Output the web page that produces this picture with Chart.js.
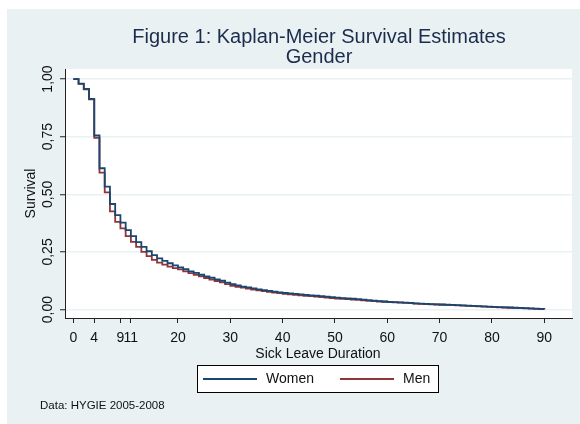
<!DOCTYPE html>
<html>
<head>
<meta charset="utf-8">
<script src="https://cdn.jsdelivr.net/npm/chart.js@4"></script>
<style>
html,body{margin:0;padding:0;background:#fff;}
canvas{display:block;}
</style>
</head>
<body>
<canvas id="c" width="580" height="424"></canvas>
<script>
// ---- data ----
const days = [0,1,2,3,4,5,6,7,8,9,10,11,12,13,14,15,16,17,18,19,20,21,22,23,24,25,26,27,28,29,30,
  31,32,33,34,35,36,37,38,39,40,41,42,43,44,45,46,47,48,49,50,51,52,53,54,55,56,57,58,59,60,
  61,62,63,64,65,66,67,68,69,70,71,72,73,74,75,76,77,78,79,80,81,82,83,84,85,86,87,88,89,90];
const women = [1.000,0.980,0.957,0.914,0.755,0.613,0.533,0.458,0.410,0.377,0.345,0.319,0.293,0.272,0.253,0.236,0.222,0.211,0.201,0.192,0.183,
  0.175,0.166,0.159,0.151,0.144,0.138,0.131,0.125,0.117,0.110,
  0.105,0.100,0.096,0.092,0.088,0.084,0.081,0.078,0.075,0.072,
  0.070,0.068,0.066,0.064,0.062,0.060,0.058,0.056,0.054,0.052,
  0.050,0.048,0.047,0.045,0.043,0.041,0.039,0.037,0.035,0.033,
  0.032,0.031,0.030,0.029,0.027,0.026,0.025,0.024,0.023,0.022,
  0.021,0.020,0.019,0.018,0.017,0.016,0.015,0.014,0.013,0.012,
  0.011,0.010,0.009,0.008,0.007,0.006,0.005,0.004,0.003,0.001];
const men = [1.000,0.979,0.955,0.912,0.745,0.594,0.508,0.426,0.380,0.352,0.319,0.294,0.272,0.250,0.232,0.216,0.204,0.195,0.186,0.180,0.174,
  0.166,0.158,0.151,0.144,0.137,0.130,0.124,0.118,0.110,0.103,
  0.099,0.095,0.091,0.087,0.083,0.080,0.077,0.074,0.071,0.068,
  0.066,0.064,0.062,0.060,0.058,0.056,0.054,0.052,0.050,0.048,
  0.047,0.045,0.043,0.042,0.040,0.038,0.037,0.035,0.034,0.032,
  0.031,0.030,0.029,0.028,0.026,0.025,0.024,0.023,0.022,0.021,
  0.020,0.019,0.018,0.017,0.016,0.015,0.014,0.013,0.012,0.011,
  0.010,0.009,0.008,0.007,0.006,0.005,0.004,0.003,0.002,0.001];
const xTicks = [0,4,9,11,20,30,40,50,60,70,80,90];
const yTicks = [0,0.25,0.5,0.75,1];
const yTickLabels = ["0,00","0,25","0,50","0,75","1,00"];
const seriesNames = ["Women","Men"];
const titleLines = ["Figure 1: Kaplan-Meier Survival Estimates","Gender"];
const xTitle = "Sick Leave Duration";
const yTitle = "Survival";
const note = "Data: HYGIE 2005-2008";

const FONT = '"Liberation Sans", Arial, sans-serif';
const BG = '#e9f1f3';
const colors = ['#1a476f','#90353b'];

const decor = {
  id:'decor',
  beforeDraw(chart){
    const ctx = chart.ctx, a = chart.chartArea;
    ctx.save();
    ctx.fillStyle='#fff'; ctx.fillRect(0,0,chart.width,chart.height);
    ctx.fillStyle=BG; ctx.fillRect(7,9,chart.width-7,chart.height-9);
    ctx.fillStyle='#fff'; ctx.fillRect(a.left,a.top,a.right-a.left,a.bottom-a.top);
    ctx.restore();
  },
  afterDraw(chart){
    const ctx = chart.ctx, a = chart.chartArea;
    const xs = chart.scales.x, ys = chart.scales.y;
    ctx.save();
    // title
    ctx.fillStyle='#1c2c4c';
    ctx.font='20px '+FONT;
    ctx.textAlign='center'; ctx.textBaseline='middle';
    ctx.fillText(titleLines[0],319,37);
    ctx.fillText(titleLines[1],319,57);
    // x tick labels
    ctx.fillStyle='#111';
    ctx.font='14px '+FONT;
    xTicks.forEach(v=>{ ctx.fillText(String(v), xs.getPixelForValue(v), 338); });
    // x title
    ctx.fillText(xTitle,318,354);
    // y tick labels rotated
    yTicks.forEach((v,i)=>{
      ctx.save();
      ctx.translate(48, ys.getPixelForValue(v));
      ctx.rotate(-Math.PI/2);
      ctx.fillText(yTickLabels[i],0,0);
      ctx.restore();
    });
    // y title
    ctx.save();
    ctx.translate(31,(a.top+a.bottom)/2);
    ctx.rotate(-Math.PI/2);
    ctx.fillText(yTitle,0,0);
    ctx.restore();
    // legend
    const lx=197, ly=365, lw=241, lh=27;
    ctx.fillStyle='#fff'; ctx.fillRect(lx,ly,lw,lh);
    ctx.strokeStyle='#000'; ctx.lineWidth=1; ctx.strokeRect(lx+0.5,ly+0.5,lw,lh);
    const cy = ly+lh/2+0.5;
    const items = [{x0:203,x1:257,tx:266},{x0:340,x1:394,tx:403}];
    chart.data.datasets.forEach((ds,i)=>{
      ctx.strokeStyle=ds.borderColor; ctx.lineWidth=1.8;
      ctx.beginPath(); ctx.moveTo(items[i].x0,cy); ctx.lineTo(items[i].x1,cy); ctx.stroke();
      ctx.fillStyle='#111'; ctx.textAlign='left'; ctx.font='14px '+FONT;
      ctx.fillText(ds.label, items[i].tx, cy);
    });
    // note
    ctx.font='11.5px '+FONT; ctx.fillStyle='#111'; ctx.textAlign='left';
    ctx.fillText(note,40,406);
    ctx.restore();
  }
};

new Chart(document.getElementById('c'),{
  type:'line',
  data:{
    datasets:[
      {label:seriesNames[0], data:days.map((d,i)=>({x:d,y:women[i]})), borderColor:colors[0], borderWidth:1.8, pointRadius:0, stepped:'before', fill:false},
      {label:seriesNames[1], data:days.map((d,i)=>({x:d,y:men[i]})), borderColor:colors[1], borderWidth:1.8, pointRadius:0, stepped:'before', fill:false}
    ]
  },
  options:{
    responsive:false, animation:false, devicePixelRatio:1,
    layout:{padding:{top:69,left:0,right:8,bottom:56}},
    plugins:{legend:{display:false}, tooltip:{enabled:false}, title:{display:false}},
    scales:{
      x:{type:'linear', min:-1.59, max:95.3,
        afterBuildTicks(s){ s.ticks = xTicks.map(v=>({value:v})); },
        afterFit(s){ s.height=50; },
        ticks:{display:false},
        grid:{drawOnChartArea:false, drawTicks:true, tickLength:5, tickColor:'#222', tickWidth:1},
        border:{display:true, color:'#222', width:1}
      },
      y:{type:'linear', min:-0.0365, max:1.0435,
        afterBuildTicks(s){ s.ticks = yTicks.map(v=>({value:v})); },
        afterFit(s){ s.width=65; },
        ticks:{display:false},
        grid:{drawOnChartArea:true, color:BG, lineWidth:1.5, drawTicks:true, tickLength:5, tickColor:'#222', tickWidth:1},
        border:{display:true, color:'#222', width:1}
      }
    }
  },
  plugins:[decor]
});
</script>
</body>
</html>
